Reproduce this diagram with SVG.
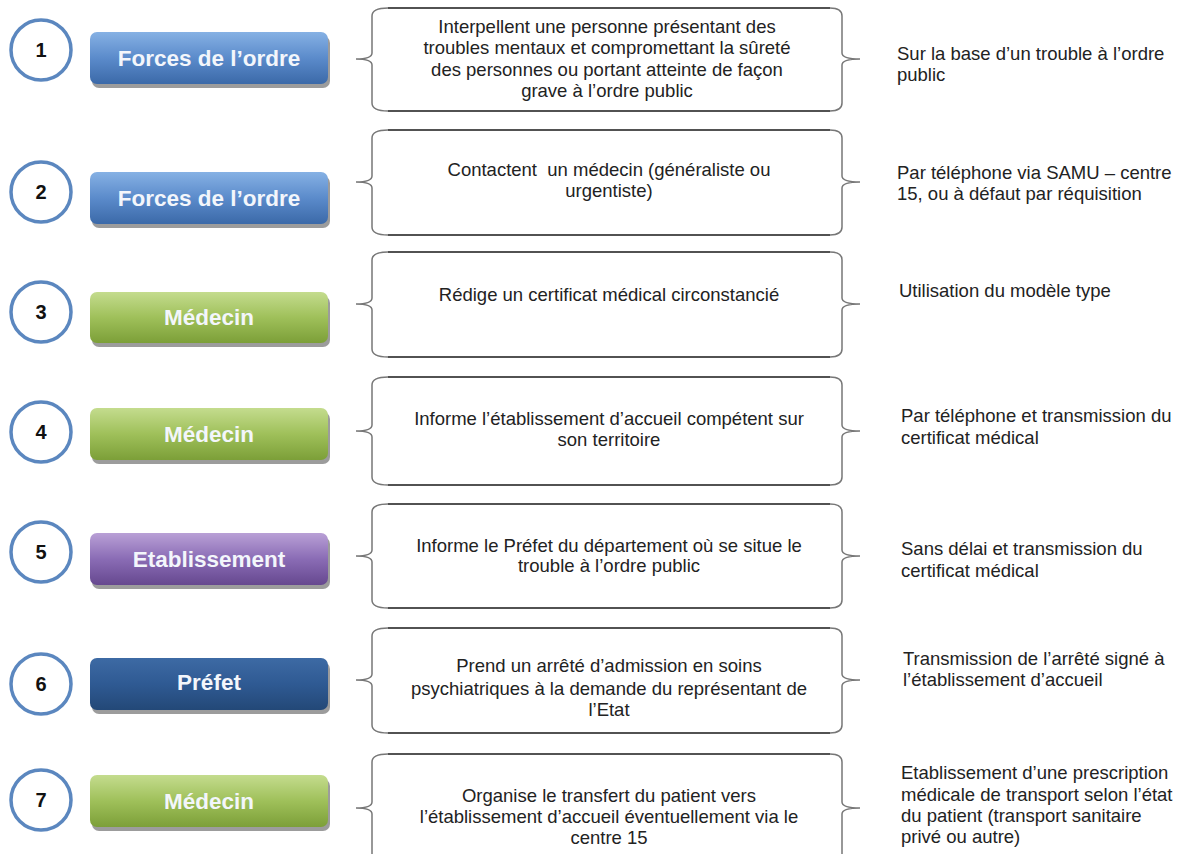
<svg xmlns="http://www.w3.org/2000/svg" width="1188" height="854" viewBox="0 0 1188 854">
<defs>
<linearGradient id="gBlue" x1="0" y1="0" x2="0" y2="1"><stop offset="0" stop-color="#86b1e4"/><stop offset="0.5" stop-color="#5b8bcb"/><stop offset="1" stop-color="#3b69a8"/></linearGradient>
<linearGradient id="gGreen" x1="0" y1="0" x2="0" y2="1"><stop offset="0" stop-color="#c4dc8e"/><stop offset="0.5" stop-color="#9fc05a"/><stop offset="1" stop-color="#7c9f38"/></linearGradient>
<linearGradient id="gPurple" x1="0" y1="0" x2="0" y2="1"><stop offset="0" stop-color="#b9a0d6"/><stop offset="0.5" stop-color="#8a6cb5"/><stop offset="1" stop-color="#66488f"/></linearGradient>
<linearGradient id="gDark" x1="0" y1="0" x2="0" y2="1"><stop offset="0" stop-color="#3d6aa4"/><stop offset="0.5" stop-color="#2f5a93"/><stop offset="1" stop-color="#234877"/></linearGradient>
</defs>
<style>
.num{font-family:"Liberation Sans",Arial,sans-serif;font-weight:bold;font-size:20px;fill:#111;text-anchor:middle}
.circ{fill:#fff;stroke:#5b87bf;stroke-width:3.5}
.btn{stroke:none}
.shadow{fill:#4a4a4a;opacity:0.55}
.btxt{font-family:"Liberation Sans",Arial,sans-serif;font-weight:bold;font-size:22.5px;fill:#f3f6fb;text-anchor:middle}
.bt{font-family:"Liberation Sans",Arial,sans-serif;font-size:18.5px;fill:#222;text-anchor:middle}
.rt{font-family:"Liberation Sans",Arial,sans-serif;font-size:18.5px;fill:#222}
.hl{stroke:#1a1a1a;stroke-width:1.6;fill:none}
.br{stroke:#777;stroke-width:1.5;fill:none}
</style>
<rect width="1188" height="854" fill="#fff"/>

<g id="connectors">
<path class="hl" d="M388,8H830M388,111H830"/>
<path class="br" d="M388,8Q372,8 372,16V53Q372,59 356,59Q372,59 372,65V103Q372,111 388,111M830,8Q842,8 842,16V53Q842,59 860,59Q842,59 842,65V103Q842,111 830,111"/>
<path class="hl" d="M388,130H830M388,235H830"/>
<path class="br" d="M388,130Q372,130 372,138V176Q372,182 356,182Q372,182 372,188V227Q372,235 388,235M830,130Q842,130 842,138V176Q842,182 860,182Q842,182 842,188V227Q842,235 830,235"/>
<path class="hl" d="M388,252H830M388,357H830"/>
<path class="br" d="M388,252Q372,252 372,260V298Q372,304 356,304Q372,304 372,310V349Q372,357 388,357M830,252Q842,252 842,260V298Q842,304 860,304Q842,304 842,310V349Q842,357 830,357"/>
<path class="hl" d="M388,377H830M388,485H830"/>
<path class="br" d="M388,377Q372,377 372,385V425Q372,431 356,431Q372,431 372,437V477Q372,485 388,485M830,377Q842,377 842,385V425Q842,431 860,431Q842,431 842,437V477Q842,485 830,485"/>
<path class="hl" d="M388,504H830M388,608H830"/>
<path class="br" d="M388,504Q372,504 372,512V550Q372,556 356,556Q372,556 372,562V600Q372,608 388,608M830,504Q842,504 842,512V550Q842,556 860,556Q842,556 842,562V600Q842,608 830,608"/>
<path class="hl" d="M388,628H830M388,733H830"/>
<path class="br" d="M388,628Q372,628 372,636V674Q372,680 356,680Q372,680 372,686V725Q372,733 388,733M830,628Q842,628 842,636V674Q842,680 860,680Q842,680 842,686V725Q842,733 830,733"/>
<path class="hl" d="M388,754H830"/>
<path class="br" d="M388,754Q372,754 372,762V802Q372,808 356,808Q372,808 372,814V860M830,754Q842,754 842,762V802Q842,808 860,808Q842,808 842,814V860"/>
</g>

<g id="step1">
<circle class="circ" cx="41" cy="50" r="30"/><text class="num" x="41" y="57">1</text>
<rect class="shadow" x="92" y="36" width="238" height="52" rx="7"/>
<rect class="btn" x="90" y="32" width="238" height="52" rx="7" fill="url(#gBlue)"/>
<text class="btxt" x="209" y="66">Forces de l’ordre</text>
<text class="bt" x="607" y="33">Interpellent une personne présentant des</text>
<text class="bt" x="607" y="54">troubles mentaux et compromettant la sûreté</text>
<text class="bt" x="607" y="76">des personnes ou portant atteinte de façon</text>
<text class="bt" x="607" y="97">grave à l’ordre public</text>
<text class="rt" x="897" y="60">Sur la base d’un trouble à l’ordre</text>
<text class="rt" x="897" y="81">public</text>
</g>

<g id="step2">
<circle class="circ" cx="41" cy="192" r="30"/><text class="num" x="41" y="199">2</text>
<rect class="shadow" x="92" y="176" width="238" height="52" rx="7"/>
<rect class="btn" x="90" y="172" width="238" height="52" rx="7" fill="url(#gBlue)"/>
<text class="btxt" x="209" y="206">Forces de l’ordre</text>
<text class="bt" x="609" y="176" xml:space="preserve">Contactent  un médecin (généraliste ou</text>
<text class="bt" x="609" y="197">urgentiste)</text>
<text class="rt" x="897" y="179">Par téléphone via SAMU – centre</text>
<text class="rt" x="897" y="200">15, ou à défaut par réquisition</text>
</g>

<g id="step3">
<circle class="circ" cx="41" cy="312" r="30"/><text class="num" x="41" y="319">3</text>
<rect class="shadow" x="92" y="296" width="238" height="51" rx="7"/>
<rect class="btn" x="90" y="292" width="238" height="51" rx="7" fill="url(#gGreen)"/>
<text class="btxt" x="209" y="325">Médecin</text>
<text class="bt" x="609" y="301">Rédige un certificat médical circonstancié</text>
<text class="rt" x="899" y="297">Utilisation du modèle type</text>
</g>

<g id="step4">
<circle class="circ" cx="41" cy="432" r="30"/><text class="num" x="41" y="439">4</text>
<rect class="shadow" x="92" y="412" width="238" height="52" rx="7"/>
<rect class="btn" x="90" y="408" width="238" height="52" rx="7" fill="url(#gGreen)"/>
<text class="btxt" x="209" y="442">Médecin</text>
<text class="bt" x="609" y="425">Informe l’établissement d’accueil compétent sur</text>
<text class="bt" x="609" y="446">son territoire</text>
<text class="rt" x="901" y="422">Par téléphone et transmission du</text>
<text class="rt" x="901" y="444">certificat médical</text>
</g>

<g id="step5">
<circle class="circ" cx="41" cy="552" r="30"/><text class="num" x="41" y="559">5</text>
<rect class="shadow" x="92" y="537" width="238" height="52" rx="7"/>
<rect class="btn" x="90" y="533" width="238" height="52" rx="7" fill="url(#gPurple)"/>
<text class="btxt" x="209" y="567">Etablissement</text>
<text class="bt" x="609" y="552">Informe le Préfet du département où se situe le</text>
<text class="bt" x="609" y="572">trouble à l’ordre public</text>
<text class="rt" x="901" y="555">Sans délai et transmission du</text>
<text class="rt" x="901" y="577">certificat médical</text>
</g>

<g id="step6">
<circle class="circ" cx="41" cy="684" r="30"/><text class="num" x="41" y="691">6</text>
<rect class="shadow" x="92" y="662" width="238" height="52" rx="7"/>
<rect class="btn" x="90" y="658" width="238" height="52" rx="7" fill="url(#gDark)" stroke="#1d3557" stroke-width="1"/>
<text class="btxt" x="209" y="690">Préfet</text>
<text class="bt" x="609" y="672">Prend un arrêté d’admission en soins</text>
<text class="bt" x="609" y="695">psychiatriques à la demande du représentant de</text>
<text class="bt" x="609" y="716">l’Etat</text>
<text class="rt" x="903" y="665">Transmission de l’arrêté signé à</text>
<text class="rt" x="903" y="686">l’établissement d’accueil</text>
</g>

<g id="step7">
<circle class="circ" cx="41" cy="800" r="30"/><text class="num" x="41" y="807">7</text>
<rect class="shadow" x="92" y="779" width="238" height="52" rx="7"/>
<rect class="btn" x="90" y="775" width="238" height="52" rx="7" fill="url(#gGreen)"/>
<text class="btxt" x="209" y="809">Médecin</text>
<text class="bt" x="609" y="802">Organise le transfert du patient vers</text>
<text class="bt" x="609" y="823">l’établissement d’accueil éventuellement via le</text>
<text class="bt" x="609" y="844">centre 15</text>
<text class="rt" x="901" y="779">Etablissement d’une prescription</text>
<text class="rt" x="901" y="801">médicale de transport selon l’état</text>
<text class="rt" x="901" y="822">du patient (transport sanitaire</text>
<text class="rt" x="901" y="843">privé ou autre)</text>
</g>
</svg>
